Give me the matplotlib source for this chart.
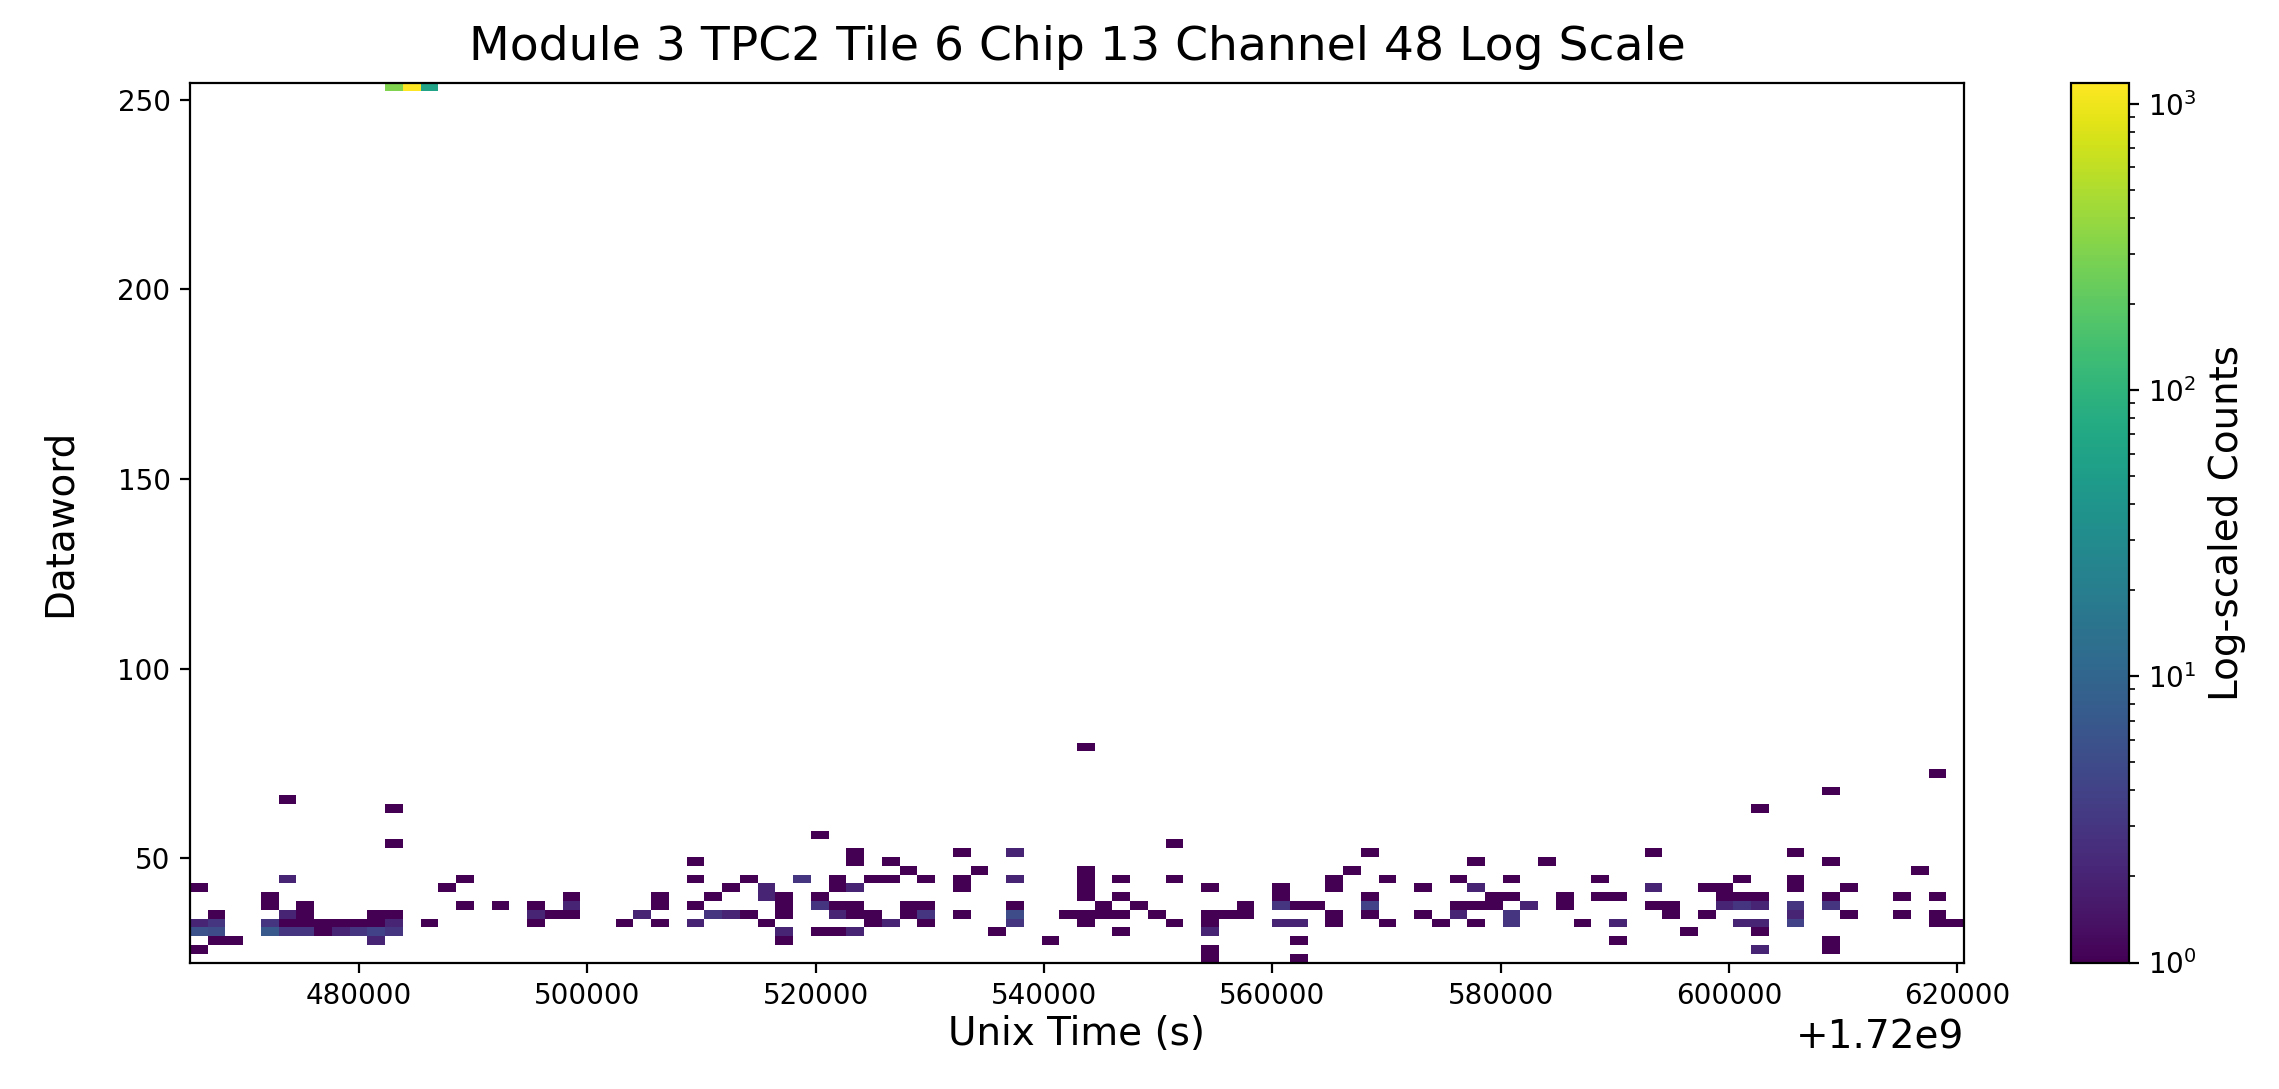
import numpy as np
import matplotlib
matplotlib.use("Agg")
import matplotlib.pyplot as plt
from matplotlib.colors import LogNorm

plt.rcParams["font.size"] = 14

# ---------------- data ----------------
TIME_BASE = 1.72e9          # offset shown as "+1.72e9"
X_RANGE = (465200, 620600)  # seconds after TIME_BASE
Y_RANGE = (22.5, 254.5)     # dataword range
N_BINS = 100

# one entry per occupied time column (seconds after TIME_BASE)
col_times = [
    465900, 467400, 469000, 472100, 473700, 475200, 476800, 478300, 479900,
    481500, 483000, 484600, 486100, 487700, 489200, 492300, 495400, 497000,
    498600, 503200, 504800, 506300, 509400, 511000, 512600, 514100, 515700,
    517200, 518800, 520300, 521900, 523400, 525000, 526500, 528100, 529700,
    532800, 534300, 535900, 537400, 540500, 542100, 543700, 545200, 546800,
    548300, 549900, 551400, 554500, 556100, 557600, 560800, 562300, 563900,
    565400, 567000, 568500, 570100, 573200, 574800, 576300, 577900, 579400,
    581000, 582500, 584100, 585600, 587200, 588700, 590300, 593400, 595000,
    596500, 598100, 599600, 601200, 602700, 605800, 609000, 610500, 615200,
    616700, 618300, 619800,
]

# datawords hit in each column
col_words = [
    [42, 33, 31, 26], [35, 33, 31, 28], [28], [40, 38, 33, 31],
    [65, 45, 35, 33, 31], [38, 35, 33, 31], [33, 31], [33, 31], [33, 31],
    [35, 33, 31, 28], [253, 63, 54, 35, 33, 31], [253], [253, 33], [42],
    [45, 38], [38], [38, 35, 33], [35],
    [40, 38, 35], [33], [35], [40, 38, 33], [49, 45, 38, 33], [40, 35],
    [42, 35], [45, 35], [42, 40, 33],
    [40, 38, 35, 31, 28], [45], [56, 40, 38, 31], [45, 42, 38, 35, 31],
    [51, 49, 42, 38, 35, 31], [45, 35, 33], [49, 45, 33], [47, 38, 35],
    [45, 38, 35, 33],
    [51, 45, 42, 35], [47], [31], [51, 45, 38, 35, 33], [28], [35],
    [79, 47, 45, 42, 40, 35, 33], [38, 35], [45, 40, 35, 31],
    [38], [35], [54, 45, 33], [42, 35, 33, 31, 26, 24], [35], [38, 35],
    [42, 40, 38, 33], [38, 33, 28, 24], [38],
    [45, 42, 35, 33], [47], [51, 40, 38, 35], [45, 33], [42, 35], [33],
    [45, 38, 35], [49, 42, 38, 33], [40, 38],
    [45, 40, 35, 33], [38], [49], [40, 38], [33], [45, 40], [40, 33, 28],
    [51, 42, 38], [38, 35],
    [31], [42, 35], [42, 40, 38], [45, 40, 38, 33], [63, 40, 38, 33, 31, 26],
    [51, 45, 42, 38, 35, 33], [68, 49, 40, 38, 28, 26], [42, 35], [40, 35],
    [47], [72, 40, 35, 33], [33],
]

# counts for each (column, dataword) entry above
col_counts = [
    [1, 2, 6, 1], [1, 3, 5, 1], [1], [1, 1, 3, 7],
    [1, 2, 2, 1, 3], [1, 1, 1, 3], [1, 1], [1, 2], [1, 3],
    [1, 1, 4, 2], [300, 1, 1, 1, 2, 3], [1186], [60, 1], [1],
    [1, 1], [1], [1, 2, 1], [1],
    [1, 2, 1], [1], [2], [1, 1, 1], [1, 1, 1, 2], [1, 3],
    [1, 2], [1, 1], [2, 2, 1],
    [1, 1, 1, 2, 1], [3], [1, 1, 3, 1], [1, 1, 1, 2, 1],
    [1, 1, 2, 1, 1, 2], [1, 1, 1], [1, 1, 2], [1, 1, 1],
    [1, 1, 3, 1],
    [1, 1, 1, 1], [1], [1], [2, 2, 1, 5, 3], [1], [1],
    [1, 1, 1, 1, 1, 1, 1], [1, 1], [1, 1, 1, 1],
    [1], [1], [1, 1, 1], [1, 1, 1, 2, 1, 1], [1], [1, 1],
    [1, 1, 3, 2], [1, 2, 1, 1], [1],
    [1, 1, 1, 1], [1], [1, 1, 4, 1], [1, 1], [1, 1], [1],
    [1, 1, 2], [1, 2, 1, 1], [1, 1],
    [1, 1, 3, 3], [2], [1], [1, 1], [1], [1, 1], [1, 2, 1],
    [1, 2, 1], [1, 1],
    [1], [1, 1], [1, 1, 2], [1, 1, 3, 2], [1, 1, 2, 2, 1, 2],
    [1, 1, 1, 3, 2, 4], [1, 1, 1, 3, 1, 1], [1, 1], [1, 1],
    [1], [1, 1, 1, 1], [1],
]

# ---------------- flatten into event arrays ----------------
times, words, weights = [], [], []
for t, ws, cs in zip(col_times, col_words, col_counts):
    for w, c in zip(ws, cs):
        times.append(TIME_BASE + t)
        words.append(w)
        weights.append(c)
times = np.array(times, dtype=float)
words = np.array(words, dtype=float)
weights = np.array(weights, dtype=float)

xedges = np.linspace(TIME_BASE + X_RANGE[0], TIME_BASE + X_RANGE[1], N_BINS + 1)
yedges = np.linspace(Y_RANGE[0], Y_RANGE[1], N_BINS + 1)

# ---------------- figure ----------------
W, H = 2279, 1089
DPI = 200
fig = plt.figure(figsize=(W / DPI, H / DPI), dpi=DPI)

ax_left, ax_right = 190 / W, 1964 / W
ax_bottom, ax_top = 1 - 962.5 / H, 1 - 82.7 / H
ax = fig.add_axes([ax_left, ax_bottom, ax_right - ax_left, ax_top - ax_bottom])
cax = fig.add_axes([2071 / W, ax_bottom, 58 / W, ax_top - ax_bottom])

h = ax.hist2d(times, words, bins=[xedges, yedges], weights=weights,
              cmap="viridis", norm=LogNorm(), cmin=1)

ax.set_title("Module 3 TPC2 Tile 6 Chip 13 Channel 48 Log Scale",
             fontsize=17, pad=8)
ax.set_xlabel("Unix Time (s)", labelpad=2)
ax.set_ylabel("Dataword", labelpad=14)
ax.tick_params(labelsize=10)

cb = fig.colorbar(h[3], cax=cax)
cb.set_label("Log-scaled Counts")
cb.ax.tick_params(labelsize=10)

fig.savefig("out.png", dpi=DPI)
